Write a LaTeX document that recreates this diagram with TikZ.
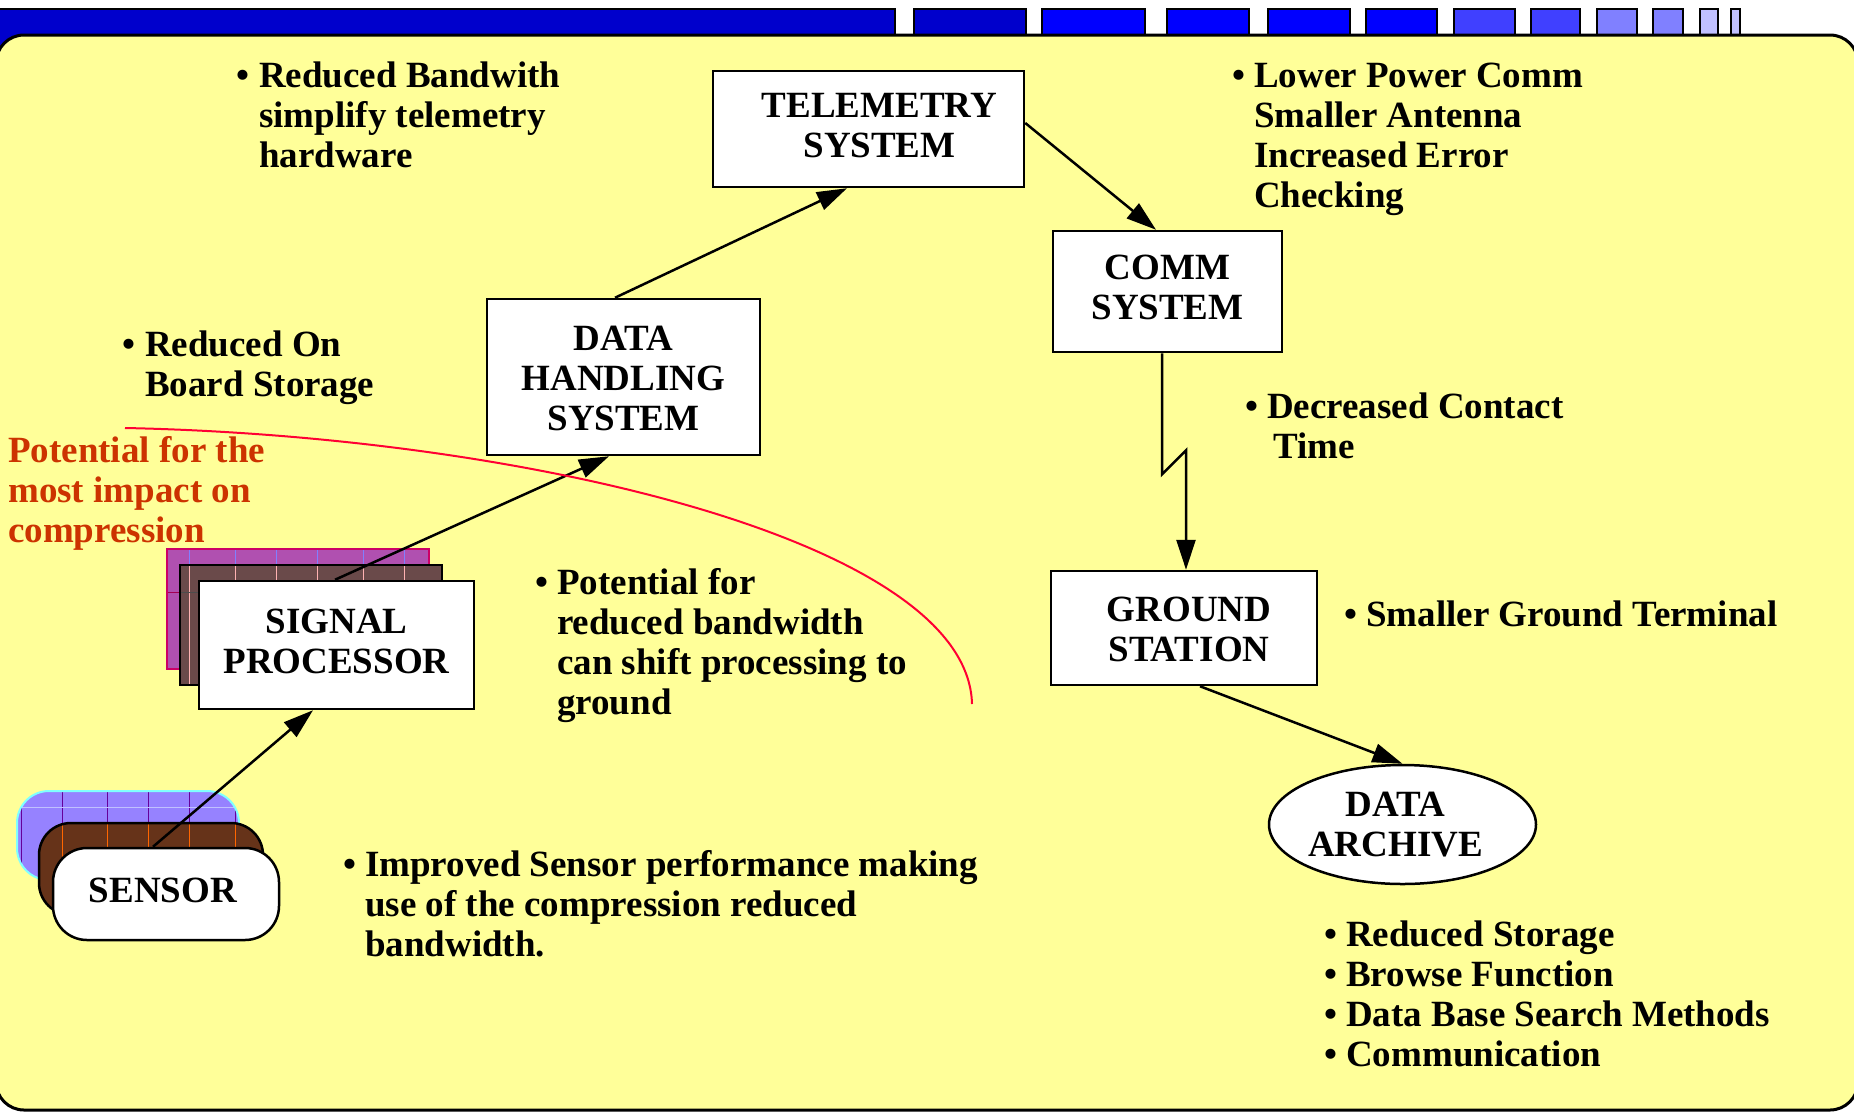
\documentclass[tikz,border=0pt]{standalone}
\usepackage{fontspec}
\setmainfont{Liberation Serif}
\usetikzlibrary{arrows.meta,shapes.geometric}

\definecolor{panelyellow}{HTML}{FFFF99}
\definecolor{barA}{HTML}{0000CC}
\definecolor{barB}{HTML}{0000FF}
\definecolor{barC}{HTML}{4040FF}
\definecolor{barD}{HTML}{8080FF}
\definecolor{barE}{HTML}{C0C0FF}
\definecolor{impactred}{HTML}{CC3300}
\definecolor{curvered}{HTML}{FF0033}
\definecolor{spback}{HTML}{B050B0}
\definecolor{spbackedge}{HTML}{CC0066}
\definecolor{spmid}{HTML}{6A4A4A}
\definecolor{snback}{HTML}{9682FF}
\definecolor{snbackedge}{HTML}{80FFFF}
\definecolor{snmid}{HTML}{663319}

\newcommand\slidefont{\fontsize{37}{40}\selectfont\bfseries}
% centred block of lines, nudged by (#1 right, #2 up) without changing the box size
\newcommand\boxtext[3]{\kern#1\raisebox{#2}[\height][\depth]{\begin{tabular}{@{}c@{}}#3\end{tabular}}\kern-#1}
\newcommand\textlines[1]{\begin{tabular}[t]{@{}l@{}}#1\end{tabular}}
\newcommand\bul{\llap{\textbullet\ }}

\begin{document}
\begin{tikzpicture}[x=1pt,y=-1pt,
  box/.style={draw, line width=2.5pt, fill=white, inner sep=0pt, font=\slidefont},
  arr/.style={line width=2.5pt, -{Triangle[length=30pt,width=19pt]}},
  txt/.style={anchor=base west, inner sep=0pt, font=\slidefont},
  gridline/.style={line width=0.9pt}]
\useasboundingbox (0,0) rectangle (1854,1111);
\clip (0,0) rectangle (1854,1111);
\fill[white] (0,0) rectangle (1854,1111);

% header strip of fading blue blocks
\draw[line width=2.5pt, fill=barA] (-10,9) rectangle (895,50);
\foreach \a/\b/\c in {914/1026/barA, 1042/1145/barB, 1167/1249/barB,
    1268/1350/barB, 1366/1437/barB, 1454/1515/barC, 1531/1580/barC,
    1597/1637/barD, 1653/1683/barD, 1700/1718/barE, 1731/1740/barE}
  \draw[line width=2pt, fill=\c] (\a,9) rectangle (\b,50);

% yellow slide panel
\draw[line width=3pt, fill=panelyellow, rounded corners=28pt] (-4,35) rectangle (1858,1110);

% stacked sheets behind the signal processor
\fill[spback] (167,549) rectangle (429,669);
\foreach \x in {189,235,276,317,363,404}
  \draw[gridline, barD] (\x,549) -- (\x,669);
\draw[gridline, spbackedge!80!black] (167,592) -- (429,592);
\draw[line width=2pt, spbackedge] (167,549) rectangle (429,669);
\fill[spmid] (180,565) rectangle (442,685);
\foreach \x in {189,235,276,317,363,404}
  \draw[gridline, red!30!white] (\x,565) -- (\x,685);
\draw[gridline, black!70] (180,592) -- (442,592);
\draw[line width=2.5pt] (180,565) rectangle (442,685);

% stacked sheets behind the sensor
\fill[snback, rounded corners=32pt] (17,791) rectangle (239,880);
\begin{scope}
  \clip[rounded corners=32pt] (17,791) rectangle (239,880);
  \foreach \x in {21,62,107,148,189,235}
    \draw[gridline, violet!80!blue] (\x,791) -- (\x,880);
  \draw[gridline, barE] (17,807) -- (239,807);
\end{scope}
\draw[line width=2pt, snbackedge, rounded corners=32pt] (17,791) rectangle (239,880);
\fill[snmid, rounded corners=32pt] (39,823) rectangle (263,915);
\begin{scope}
  \clip[rounded corners=32pt] (39,823) rectangle (263,915);
  \foreach \x in {62,107,148,189,235}
    \draw[gridline, orange!80!red] (\x,823) -- (\x,915);
\end{scope}
\draw[line width=2.5pt, rounded corners=32pt] (39,823) rectangle (263,915);

% system blocks
\node[box, minimum width=311pt, minimum height=116pt] (tel) at (868.5,129) {\boxtext{11pt}{0pt}{TELEMETRY\\SYSTEM}};
\node[box, minimum width=229pt, minimum height=121pt] (comm) at (1167.5,291.5) {\boxtext{0pt}{0pt}{COMM\\SYSTEM}};
\node[box, minimum width=273pt, minimum height=156pt] (dh) at (623.5,377) {\boxtext{0pt}{-5pt}{DATA\\HANDLING\\SYSTEM}};
\node[box, minimum width=266pt, minimum height=114pt] (gs) at (1184,628) {\boxtext{5pt}{-5pt}{GROUND\\STATION}};
\node[box, minimum width=275pt, minimum height=128pt] (sp) at (336.5,645) {\boxtext{0pt}{0pt}{SIGNAL\\PROCESSOR}};
\node[box, rounded corners=34pt, minimum width=226pt, minimum height=92pt] (sensor) at (166,894) {\boxtext{-3pt}{0pt}{SENSOR}};
\node[box, ellipse, minimum width=267pt, minimum height=119pt] (arch) at (1402.5,824.5) {\boxtext{-7pt}{-3.5pt}{DATA\\ARCHIVE}};

% data flow
\draw[arr] ([xshift=-13pt]sensor.north) -- ([xshift=-23.5pt]sp.south);
\draw[arr] ([xshift=-1.5pt]sp.north) -- ([xshift=-14.5pt]dh.south);
\draw[arr] ([xshift=-8.5pt]dh.north) -- ([xshift=-21.5pt]tel.south);
\draw[arr] ([yshift=6pt]tel.east) -- ([xshift=-11.5pt]comm.north);
\draw[arr] ([xshift=-5.5pt]comm.south) -- ++(0,121) -- ++(24,-24) -- ([xshift=2pt]gs.north);
\draw[arr] ([xshift=16pt]gs.south) -- (arch.north);

% boundary of the region where compression matters most
\draw[line width=2pt, curvered] (125,428) .. controls (520,436) and (968,540) .. (972,704);

% annotations
\node[txt] (t1) at (259,87) {\textlines{\bul Reduced Bandwith\\simplify telemetry\\hardware}};
\node[txt] (t2) at (1254,87) {\textlines{\bul Lower Power Comm\\Smaller Antenna\\Increased Error\\Checking}};
\node[txt] (t3) at (145,356) {\textlines{\bul Reduced On\\Board Storage}};
\node[txt, text=impactred] (t4) at (8,462) {\textlines{Potential for the\\most impact on\\compression}};
\node[txt] (t5) at (1267,418) {\textlines{\bul Decreased Contact\\\hspace*{6pt}Time}};
\node[txt] (t6) at (557,594) {\textlines{\bul Potential for\\reduced bandwidth\\can shift processing to\\ground}};
\node[txt] (t7) at (1366,626) {\textlines{\bul Smaller Ground Terminal}};
\node[txt] (t8) at (365,876) {\textlines{\bul Improved Sensor performance making\\use of the compression reduced\\bandwidth.}};
\node[txt] (t9) at (1346,946) {\textlines{\bul Reduced Storage\\\bul Browse Function\\\bul Data Base Search Methods\\\bul Communication}};
\end{tikzpicture}
\end{document}
